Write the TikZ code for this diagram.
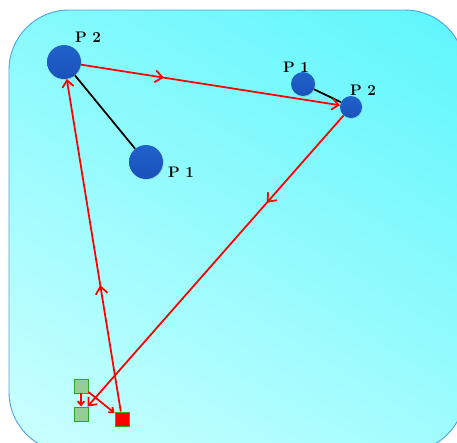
\documentclass[tikz,border=0pt]{standalone}
\usepackage{tikz}
\usetikzlibrary{arrows.meta,positioning,decorations.markings,shadows,shadings}

\definecolor{ballblue}{RGB}{34,98,204}
\definecolor{balldark}{RGB}{24,82,186}
\definecolor{panelcyan}{RGB}{92,246,252}
\definecolor{panelmid}{RGB}{135,250,253}
\definecolor{panelbr}{RGB}{160,252,253}
\definecolor{panellight}{RGB}{205,255,255}
\definecolor{paneledge}{RGB}{80,165,225}
\definecolor{taggreen}{RGB}{150,205,150}
\definecolor{tagedge}{RGB}{40,170,40}

\begin{document}
\begin{tikzpicture}[
x=0.03cm, y=-0.03cm,
ball/.style={circle, top color=ballblue, bottom color=balldark, inner sep=0pt, drop shadow={opacity=0.25, shadow xshift=0.6pt, shadow yshift=-0.8pt}},
lbl/.style={font=\bfseries\fontsize{13}{15}\selectfont, inner sep=0pt},
tag/.style={draw=tagedge, line width=0.8pt, fill=taggreen, minimum size=0.42cm, inner sep=0pt},
link/.style={black, line width=1.5pt},
route/.style={red, line width=1.5pt, -{Straight Barb[length=2mm, width=3.4mm]}},
shortroute/.style={red, line width=1.5pt, -{Straight Barb[length=1.2mm, width=2mm]}},
midarrow/.style={postaction={decorate}, decoration={markings, mark=at position #1 with {\arrow{Straight Barb[length=2.2mm, width=3.6mm]}}}}
]
\useasboundingbox (0,0) rectangle (457,442);

% panel
\begin{scope}
\clip (0,0) rectangle (457,442);
\shade[upper left=panelmid, upper right=panelcyan, lower left=panellight, lower right=panelbr, rounded corners=1.8cm] (9,10) rectangle (465,452);
\draw[paneledge, line width=0.8pt, rounded corners=1.8cm] (9,10) rectangle (465,452);
\end{scope}

% players
\node[ball, minimum size=1.02cm] (bigtwo) at (64,62) {};
\node[ball, minimum size=1.02cm] (bigone) at (146,162) {};
\node[ball, minimum size=0.72cm] (smallone) at (303,84) {};
\node[ball, minimum size=0.66cm] (smalltwo) at (351,107) {};

\node[lbl] (bigtwolbl) at (88,37) {P 2};
\node[lbl] (bigonelbl) at (181,172) {P 1};
\node[lbl] (smallonelbl) at (296,67) {P 1};
\node[lbl] (smalltwolbl) at (363,90) {P 2};

% markers
\node[tag] (tagtop) at (81,386) {};
\node[tag] (tagbot) at (81,414) {};
\node[tag, fill=red] (redtag) at (122,419) {};

% links
\draw[link] (bigtwo) -- (bigone);
\draw[link] (smallone) -- (smalltwo);

% route
\draw[route, midarrow=0.32] (bigtwo) -- (smalltwo);
\draw[route, midarrow=0.3] (smalltwo) -- (tagbot);
\draw[route, midarrow=0.38] (redtag) -- (bigtwo);
\draw[shortroute] (tagtop) -- (redtag);
\draw[shortroute] (tagtop) -- (tagbot);
\end{tikzpicture}
\end{document}
